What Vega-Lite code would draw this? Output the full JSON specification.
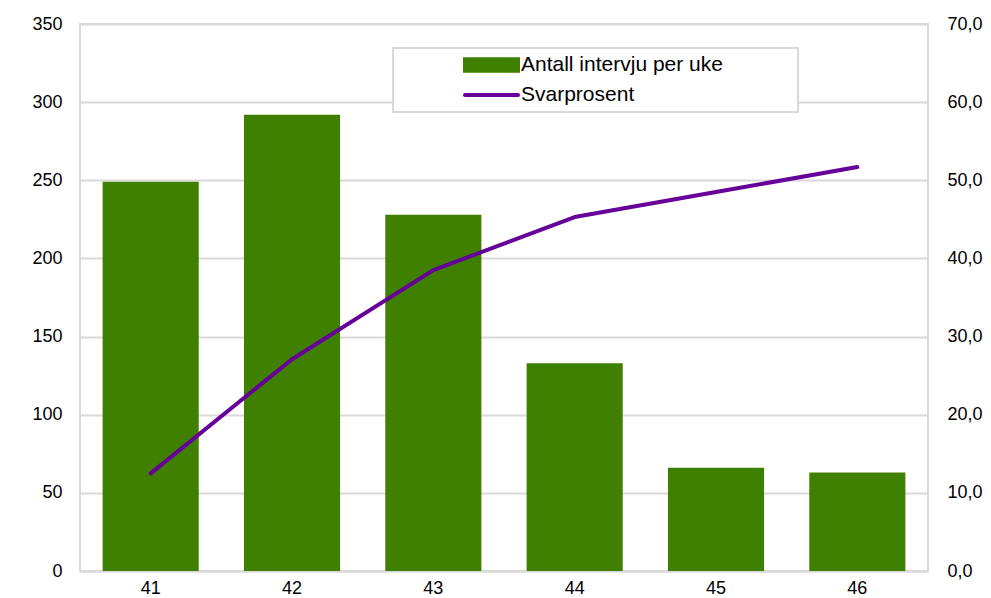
{
  "$schema": "https://vega.github.io/schema/vega-lite/v6.json",
  "width": 848,
  "height": 547,
  "autosize": {"type": "none"},
  "padding": {"left": 80, "top": 24, "right": 63, "bottom": 27},
  "config": {
    "font": "Liberation Sans",
    "view": {"stroke": "#d9d9d9", "strokeWidth": 2},
    "axis": {"labelFont": "Liberation Sans", "labelFontSize": 18, "labelColor": "#000000", "ticks": false, "domain": false, "gridColor": "#d9d9d9", "gridWidth": 2, "title": null}
  },
  "datasets": {
    "bars": [
      {"uke": "41", "antall": 249, "serie": "Antall intervju per uke"},
      {"uke": "42", "antall": 292, "serie": "Antall intervju per uke"},
      {"uke": "43", "antall": 228, "serie": "Antall intervju per uke"},
      {"uke": "44", "antall": 133, "serie": "Antall intervju per uke"},
      {"uke": "45", "antall": 66, "serie": "Antall intervju per uke"},
      {"uke": "46", "antall": 63, "serie": "Antall intervju per uke"}
    ],
    "line": [
      {"uke": "41", "prosent": 12.5, "serie": "Svarprosent"},
      {"uke": "42", "prosent": 27.1, "serie": "Svarprosent"},
      {"uke": "43", "prosent": 38.5, "serie": "Svarprosent"},
      {"uke": "44", "prosent": 45.3, "serie": "Svarprosent"},
      {"uke": "45", "prosent": 48.5, "serie": "Svarprosent"},
      {"uke": "46", "prosent": 51.7, "serie": "Svarprosent"}
    ]
  },
  "encoding": {
    "x": {
      "field": "uke", "type": "nominal", "sort": null,
      "scale": {"paddingInner": 0.32, "paddingOuter": 0.16},
      "axis": {"labelAngle": 0, "labelPadding": 8, "domain": true, "domainColor": "#d9d9d9", "domainWidth": 2, "grid": false}
    }
  },
  "layer": [
    {
      "data": {"name": "bars"},
      "mark": {"type": "bar"},
      "encoding": {
        "y": {
          "field": "antall", "type": "quantitative",
          "scale": {"domain": [0, 350], "nice": false},
          "axis": {"values": [0, 50, 100, 150, 200, 250, 300, 350], "labelPadding": 18, "grid": true}
        },
        "color": {
          "field": "serie", "type": "nominal",
          "scale": {"domain": ["Antall intervju per uke", "Svarprosent"], "range": ["#3f8000", "#660099"]},
          "legend": {
            "title": null,
            "orient": "none",
            "legendX": 313,
            "legendY": 24,
            "padding": 5,
            "fillColor": "#ffffff",
            "strokeColor": "#d9d9d9",
            "symbolSize": 2809,
            "symbolOffset": 65,
            "clipHeight": 24,
            "rowPadding": 6,
            "labelOffset": 1,
            "labelFont": "Liberation Sans",
            "labelFontSize": 21,
            "labelColor": "#000000",
            "labelLimit": 500,
            "labelExpr": "datum.label + '\\u00a0\\u00a0\\u00a0\\u00a0\\u00a0\\u00a0\\u00a0\\u00a0\\u00a0\\u00a0\\u00a0\\u00a0\\u200b'",
            "encode": {
              "legend": {
                "update": {"strokeWidth": {"value": 2}}
              },
              "symbols": {
                "update": {
                  "shape": {"signal": "datum.value === 'Svarprosent' ? 'stroke' : 'M-1,-0.22H1V0.22H-1Z'"},
                  "fill": {"signal": "datum.value === 'Svarprosent' ? 'transparent' : '#3f8000'"},
                  "stroke": {"signal": "datum.value === 'Svarprosent' ? '#660099' : 'transparent'"},
                  "strokeWidth": {"value": 4},
                  "strokeCap": {"value": "round"},
                  "opacity": {"value": 1}
                }
              }
            }
          }
        }
      }
    },
    {
      "data": {"name": "line"},
      "mark": {"type": "line", "strokeWidth": 4, "strokeCap": "round", "strokeJoin": "round"},
      "encoding": {
        "y": {
          "field": "prosent", "type": "quantitative",
          "scale": {"domain": [0, 70], "nice": false},
          "axis": {"orient": "right", "values": [0, 10, 20, 30, 40, 50, 60, 70], "labelPadding": 19, "grid": false, "labelExpr": "replace(format(datum.value, '.1f'), '.', ',')"}
        },
        "color": {"field": "serie", "type": "nominal"}
      }
    }
  ],
  "resolve": {"scale": {"y": "independent"}}
}
